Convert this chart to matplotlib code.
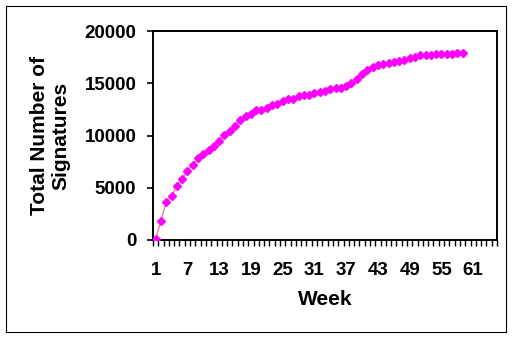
import matplotlib
matplotlib.use('Agg')
import matplotlib.pyplot as plt
from matplotlib.patches import Rectangle
import numpy as np

# weekly cumulative signature counts
weeks = list(range(1, 60))
signatures = [100, 1820, 3640, 4240, 5170, 5840, 6600, 7180, 7850, 8230,
              8610, 9000, 9470, 10080, 10460, 10940, 11480, 11900, 12090, 12400,
              12470, 12630, 12950, 13040, 13330, 13520, 13520, 13780, 13880, 13880,
              14070, 14190, 14260, 14450, 14580, 14580, 14770, 15000, 15440, 15920,
              16300, 16590, 16780, 16870, 16970, 17060, 17160, 17250, 17450, 17540,
              17730, 17730, 17730, 17830, 17830, 17830, 17830, 17920, 17920]
xtick_labels = [1, 7, 13, 19, 25, 31, 37, 43, 49, 55, 61]
ytick_values = [0, 5000, 10000, 15000, 20000]
n_categories = 65

plt.rcParams['font.family'] = ['Liberation Sans', 'DejaVu Sans']
plt.rcParams['font.weight'] = 'bold'

fig = plt.figure(figsize=(5.12, 3.37), dpi=100)
ax = fig.add_axes([153 / 512, 1 - 240 / 337, 344 / 512, 209 / 337])

# outer chart border
fig.patches.append(Rectangle((5.5 / 512, 1 - 331.5 / 337), 500 / 512, 326 / 337,
                             transform=fig.transFigure, fill=False,
                             edgecolor='black', linewidth=0.8))

ax.plot(weeks, signatures, color='#FF7070', linewidth=0.9, zorder=2)
ax.plot(weeks, signatures, linestyle='none', marker='D', markersize=3.8,
        markerfacecolor='#FF00FF', markeredgecolor='#FF00FF', zorder=3)

ax.set_xlim(0.5, n_categories + 0.5)
ax.set_ylim(0, 20000)

ax.set_yticks(ytick_values)
ax.set_yticklabels([str(v) for v in ytick_values], fontsize=13.5, fontweight='bold')
ax.tick_params(axis='y', direction='out', length=4, width=1.2, pad=8)

ax.set_xticks(xtick_labels)
ax.set_xticklabels([str(v) for v in xtick_labels], fontsize=13.5, fontweight='bold')
ax.set_xticks(np.arange(0.5, n_categories + 1, 1), minor=True)
ax.tick_params(axis='x', which='major', length=0, pad=16)
ax.tick_params(axis='x', which='minor', direction='out', length=4, width=1.0)

for s in ax.spines.values():
    s.set_linewidth(1.4)

ax.set_xlabel('Week', fontsize=15, fontweight='bold', labelpad=8)
ax.set_ylabel('Total Number of\nSignatures', fontsize=15, fontweight='bold',
              labelpad=10, linespacing=1.15)

fig.savefig('out.png', dpi=100)
